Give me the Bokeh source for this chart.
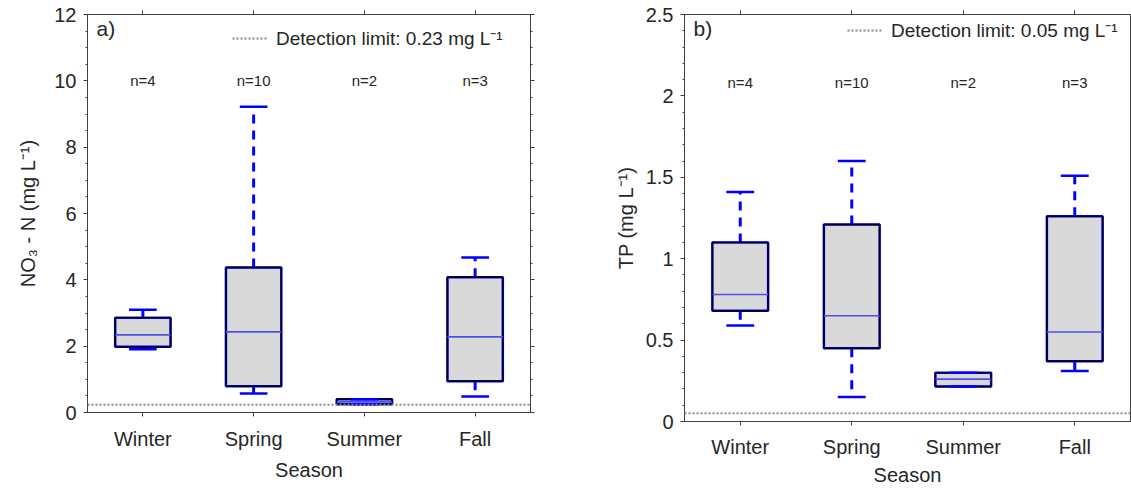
import numpy as np
from bokeh.plotting import figure
from bokeh.layouts import row
from bokeh.models import (LinearAxis, FixedTicker, SingleIntervalTicker, CustomJSTickFormatter,
                          Span, Legend, LegendItem, Label, Range1d)
from bokeh.core.properties import value
from bokeh.embed import file_html
from bokeh.resources import INLINE

# ---- data -------------------------------------------------------------
seasons = ["Winter", "Spring", "Summer", "Fall"]
n_samples = [4, 10, 2, 3]

# NO3-N, mg/L
no3_lower = [1.91, 0.57, 0.25, 0.48]
no3_q1 = [1.98, 0.79, 0.25, 0.94]
no3_median = [2.34, 2.43, 0.32, 2.28]
no3_q3 = [2.86, 4.37, 0.40, 4.08]
no3_upper = [3.10, 9.22, 0.40, 4.67]
no3_detection = 0.23

# Total phosphorus, mg/L
tp_lower = [0.59, 0.15, 0.215, 0.31]
tp_q1 = [0.68, 0.45, 0.215, 0.37]
tp_median = [0.78, 0.65, 0.26, 0.55]
tp_q3 = [1.10, 1.21, 0.30, 1.26]
tp_upper = [1.41, 1.60, 0.30, 1.51]
tp_detection = 0.05

FONT = "Liberation Sans"
INK = "#262626"
AXIS = "#404040"
BLUE = "#0000ff"
DET = "#8a8a8a"


def style_axis(ax, labels=True):
    ax.axis_line_color = AXIS
    ax.axis_line_width = 1
    ax.major_tick_line_color = AXIS
    ax.minor_tick_line_color = AXIS
    ax.major_tick_in = 0
    ax.major_tick_out = 4
    ax.minor_tick_in = 0
    ax.minor_tick_out = 2
    ax.major_label_text_font = FONT
    ax.major_label_text_color = INK
    ax.axis_label_text_font = FONT
    ax.axis_label_text_color = INK
    ax.axis_label_text_font_style = "normal"
    ax.axis_label_text_font_size = "20px"
    if labels:
        ax.major_label_text_font_size = "20px"
    else:
        # tick marks only
        ax.formatter = CustomJSTickFormatter(code="return '';")
        ax.major_label_text_font_size = "1px"
        ax.major_label_standoff = 0


def panel(tag, lower, q1, med, q3, upper, det, ymax, yint, yminor, ylabel, nlab_y,
          width, left, right, bottom, leg_xy, xstand, right_axis=True):
    p = figure(width=width, height=488, x_range=Range1d(0.5, 4.5), y_range=Range1d(0, ymax),
               output_backend="svg", toolbar_location=None, x_axis_location=None,
               y_axis_location=None, min_border_left=left, min_border_right=right,
               min_border_top=14, min_border_bottom=bottom, frame_align=False)
    p.xgrid.visible = False
    p.ygrid.visible = False
    p.outline_line_color = AXIS
    p.background_fill_color = "white"

    xs = [i + 1 for i in range(len(seasons))]
    xticker = FixedTicker(ticks=xs, minor_ticks=[])
    xfmt = CustomJSTickFormatter(args=dict(names=seasons),
                                 code="return names[Math.round(tick) - 1] || '';")
    yticker = SingleIntervalTicker(interval=yint, num_minor_ticks=yminor)
    yfmt = CustomJSTickFormatter(code="return String(Number(tick.toFixed(2)));")

    xb = LinearAxis(ticker=xticker, formatter=xfmt, axis_label="Season")
    style_axis(xb)
    xb.major_label_standoff = xstand[0]
    xb.axis_label_standoff = xstand[1]
    p.add_layout(xb, "below")

    xt = LinearAxis(ticker=xticker)
    style_axis(xt, labels=False)
    p.add_layout(xt, "above")

    yl = LinearAxis(ticker=yticker, formatter=yfmt, axis_label=ylabel)
    style_axis(yl)
    yl.major_label_standoff = 7
    yl.axis_label_standoff = 12 if tag == "a)" else 6
    p.add_layout(yl, "left")

    if right_axis:
        yr = LinearAxis(ticker=yticker)
        style_axis(yr, labels=False)
        p.add_layout(yr, "right")

    # detection limit
    p.add_layout(Span(location=det, dimension="width", line_color=DET,
                      line_dash="2 2", line_width=2))
    det_key = p.line(x=np.array([np.nan]), y=np.array([np.nan]), line_color=DET,
                     line_dash="2 2", line_width=2)

    half_box = 0.25
    half_cap = 0.125
    left_e = [x - half_box for x in xs]
    right_e = [x + half_box for x in xs]

    # whiskers
    p.segment(x0=xs, x1=xs, y0=q3, y1=upper, line_color=BLUE, line_width=3, line_dash="9 7")
    p.segment(x0=xs, x1=xs, y0=q1, y1=lower, line_color=BLUE, line_width=3, line_dash="9 7")

    # boxes
    p.quad(left=left_e, right=right_e, bottom=q1, top=q3, fill_color="#d9d9d9",
           line_color=BLUE, line_width=2.5)
    p.quad(left=left_e, right=right_e, bottom=q1, top=q3, fill_alpha=0,
           line_color="#000000", line_width=1.4)

    # whisker caps
    cl = [x - half_cap for x in xs]
    cr = [x + half_cap for x in xs]
    p.segment(x0=cl, x1=cr, y0=upper, y1=upper, line_color=BLUE, line_width=2.5)
    p.segment(x0=cl, x1=cr, y0=lower, y1=lower, line_color=BLUE, line_width=2.5)

    # medians
    p.segment(x0=left_e, x1=right_e, y0=med, y1=med, line_color="#4f4fe8", line_width=1.6)

    # sample counts
    p.text(x=xs, y=[nlab_y] * len(xs), text=[f"n={n}" for n in n_samples],
           text_align="center", text_baseline="middle", text_font=value(FONT),
           text_font_size="15px", text_color=INK)

    p.add_layout(Label(x=0.5, y=ymax, x_offset=9, y_offset=-2, text=tag,
                       text_baseline="top", text_font=FONT, text_font_size="21px",
                       text_color=INK))

    legend = Legend(items=[LegendItem(label=f"Detection limit: {det:g} mg L\u207b\u00b9",
                                      renderers=[det_key])],
                    location=leg_xy, padding=0, margin=0, spacing=0,
                    glyph_width=36, glyph_height=20, label_standoff=8,
                    label_text_font=FONT, label_text_font_size="19px",
                    label_text_color=INK, border_line_alpha=0,
                    background_fill_alpha=0)
    p.add_layout(legend)
    return p


pa = panel("a)", no3_lower, no3_q1, no3_median, no3_q3, no3_upper, no3_detection,
           12, 2, 4, "NO\u2083 - N (mg L\u207b\u00b9)", 10,
           width=560, left=87, right=30, bottom=76, leg_xy=(145, 361), xstand=(11, 6))
pb = panel("b)", tp_lower, tp_q1, tp_median, tp_q3, tp_upper, tp_detection,
           2.5, 0.5, 5, "TP (mg L\u207b\u00b9)", 2.08,
           width=571, left=124, right=1, bottom=66, leg_xy=(163, 378), xstand=(10, 3),
           right_axis=False)

layout = row(pa, pb)
open("out.html", "w").write(file_html(layout, INLINE))
